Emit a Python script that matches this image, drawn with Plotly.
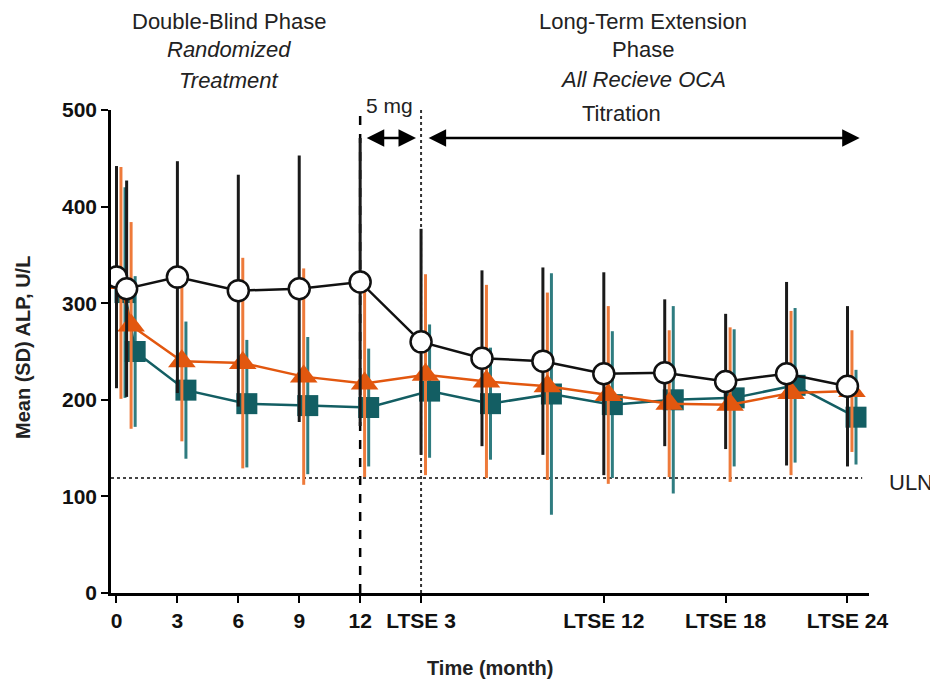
import plotly.graph_objects as go

# Time points (months); LTSE months are plotted as 12 + LTSE month
time = [0, 0.5, 3, 6, 9, 12, 15, 18, 21, 24, 27, 30, 33, 36]

# Black open circles
black_mean = [327, 315, 327, 313, 315, 322, 260, 243, 240, 227, 228, 219, 227, 214]
black_sd = [115, 112, 120, 120, 138, 149, 117, 91, 97, 105, 76, 70, 95, 83]

# Orange triangles
orange_mean = [321, 277, 240, 238, 224, 217, 226, 219, 214, 205, 196, 195, 207, 209]
orange_sd = [120, 107, 83, 109, 112, 97, 104, 100, 97, 92, 76, 80, 85, 63]

# Teal squares
teal_mean = [311, 250, 210, 196, 194, 192, 209, 196, 206, 195, 200, 202, 215, 182]
teal_sd = [109, 78, 71, 66, 71, 61, 69, 58, 125, 76, 97, 71, 80, 49]

tick_vals = [0, 3, 6, 9, 12, 15, 24, 30, 36]
tick_text = ["0", "3", "6", "9", "12", "LTSE 3", "LTSE 12", "LTSE 18", "LTSE 24"]

ULN = 119

orange_off = 0.22
teal_off = 0.42

FONT = "Liberation Sans, Arial, sans-serif"
ORANGE = "#E2570F"
ORANGE_BAR = "#EE7A3A"
TEAL = "#135E63"
TEAL_BAR = "#2F7C80"

fig = go.Figure()

fig.add_trace(go.Scatter(
    x=[t + teal_off for t in time], y=teal_mean, mode="lines+markers",
    line=dict(color=TEAL, width=2.5),
    marker=dict(symbol="square", size=21, color=TEAL),
    error_y=dict(type="data", array=teal_sd, visible=True, color=TEAL_BAR, thickness=3, width=0),
    showlegend=False,
))
fig.add_trace(go.Scatter(
    x=[t + orange_off for t in time], y=orange_mean, mode="lines+markers",
    line=dict(color=ORANGE, width=2.5),
    marker=dict(symbol="triangle-up", size=24, color=ORANGE),
    error_y=dict(type="data", array=orange_sd, visible=True, color=ORANGE_BAR, thickness=3, width=0),
    showlegend=False,
))
fig.add_trace(go.Scatter(
    x=time, y=black_mean, mode="lines+markers",
    line=dict(color="#111111", width=2.5),
    marker=dict(symbol="circle", size=21, color="white", line=dict(color="#111111", width=2.5)),
    error_y=dict(type="data", array=black_sd, visible=True, color="#1a1a1a", thickness=3, width=0),
    showlegend=False,
))

shapes = [
    dict(type="line", xref="x", yref="paper", x0=12, x1=12, y0=0, y1=1.004,
         line=dict(color="black", width=2.5, dash="dash"), layer="below"),
    dict(type="line", xref="x", yref="paper", x0=15, x1=15, y0=0, y1=1.004,
         line=dict(color="#333333", width=2, dash="dot"), layer="below"),
    dict(type="line", xref="paper", yref="y", x0=0, x1=0.991, y0=ULN, y1=ULN,
         line=dict(color="#444444", width=2, dash="dot"), layer="below"),
]

# The page body has an 8px margin, so the figure is placed 8px right/down.
OFF = 8
W, H = 938 - OFF, 681 - OFF
L, R, T, B = 111 - OFF, 69, 110 - OFF, 88
pw, ph = W - L - R, H - T - B


def txt(text, xpx, ypx, size, angle=0):
    xf, yf = xpx - OFF, ypx - OFF
    return dict(text=text, x=(xf - L) / pw, y=(H - B - yf) / ph,
                xref="paper", yref="paper", xanchor="center", yanchor="middle",
                showarrow=False, textangle=angle,
                font=dict(family=FONT, size=size, color="#222222"))


ann = [
    txt("Double-Blind Phase", 229, 22, 22),
    txt("<i>Randomized</i>", 229, 50, 22),
    txt("<i>Treatment</i>", 229, 80, 22),
    txt("Long-Term Extension", 643, 22, 22),
    txt("Phase", 643, 50, 22),
    txt("<i>All Recieve OCA</i>", 643, 79, 22),
    txt("5 mg", 389, 105, 21),
    txt("Titration", 621, 113, 22),
    txt("ULN", 911, 483, 22),
    txt("<b>Mean (SD) ALP, U/L</b>", 23, 348, 20, angle=-90),
    txt("<b>Time (month)</b>", 490, 668, 20),
]
# arrows
ann.append(dict(x=14.75, y=471, ax=12.25, ay=471, xref="x", yref="y", axref="x", ayref="y",
                text="", showarrow=True, arrowhead=2, arrowside="end+start",
                arrowsize=1.4, arrowwidth=2.5, arrowcolor="black"))
ann.append(dict(x=36.6, y=471, ax=15.3, ay=471, xref="x", yref="y", axref="x", ayref="y",
                text="", showarrow=True, arrowhead=2, arrowside="end+start",
                arrowsize=1.4, arrowwidth=2.5, arrowcolor="black"))

fig.update_layout(
    width=W, height=H,
    margin=dict(l=L, r=R, t=T, b=B, autoexpand=False),
    plot_bgcolor="white", paper_bgcolor="white",
    shapes=shapes, annotations=ann,
    font=dict(family=FONT, color="#222222"),
    xaxis=dict(
        range=[-0.27, 37.06], tickmode="array", tickvals=tick_vals, ticktext=tick_text,
        showgrid=False, zeroline=False, showline=True, linecolor="black", linewidth=2.5,
        ticks="outside", ticklen=7, tickwidth=2, tickcolor="black", automargin=False,
        tickfont=dict(family=FONT, size=21, color="#111111", weight="bold"),
    ),
    yaxis=dict(
        range=[0, 500], tickvals=[0, 100, 200, 300, 400, 500],
        showgrid=False, zeroline=False, showline=True, linecolor="black", linewidth=2.5,
        ticks="outside", ticklen=7, tickwidth=2, tickcolor="black", automargin=False,
        tickfont=dict(family=FONT, size=21, color="#111111", weight="bold"),
    ),
)

fig.write_html("out.html")
